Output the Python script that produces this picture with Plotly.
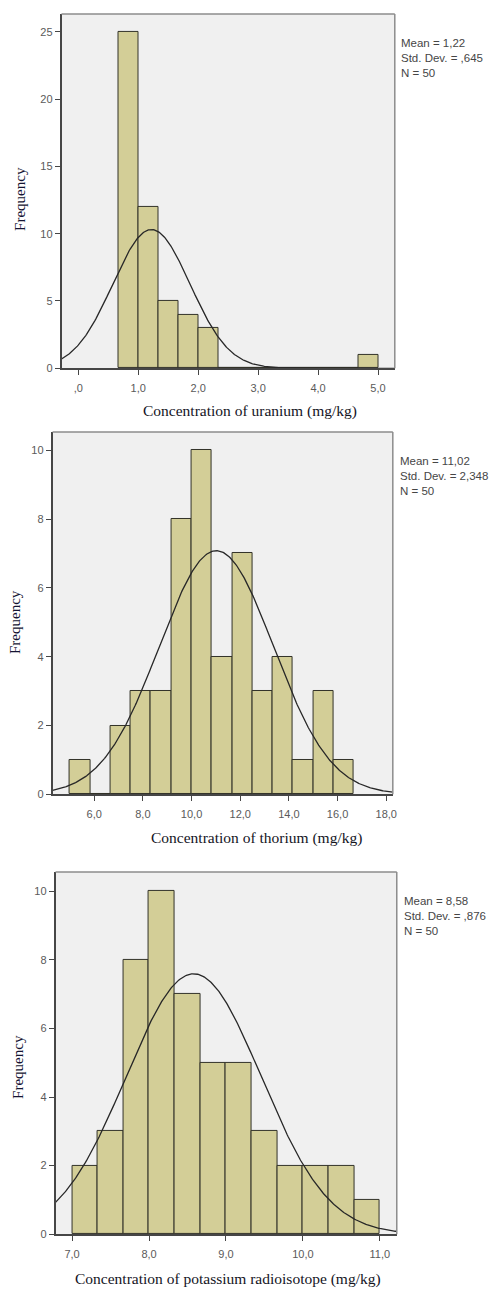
import numpy as np
import plotly.graph_objects as go

# ---------------- data ----------------
# Uranium
u_bin_start = 0.6667
u_bin_width = 1 / 3
u_counts = [25, 12, 5, 4, 3, 0, 0, 0, 0, 0, 0, 0, 1]
u_mean, u_sd, u_n = 1.22, 0.645, 50
u_tickvals = [0, 1, 2, 3, 4, 5]
u_ticktext = [",0", "1,0", "2,0", "3,0", "4,0", "5,0"]
u_yticks = [0, 5, 10, 15, 20, 25]

# Thorium
t_bin_start = 5.0
t_bin_width = 5 / 6
t_counts = [1, 0, 2, 3, 3, 8, 10, 4, 7, 3, 4, 1, 3, 1]
t_mean, t_sd, t_n = 11.02, 2.348, 50
t_tickvals = [6, 8, 10, 12, 14, 16, 18]
t_ticktext = ["6,0", "8,0", "10,0", "12,0", "14,0", "16,0", "18,0"]
t_yticks = [0, 2, 4, 6, 8, 10]

# Potassium
k_bin_start = 7.0
k_bin_width = 1 / 3
k_counts = [2, 3, 8, 10, 7, 5, 5, 3, 2, 2, 2, 1]
k_mean, k_sd, k_n = 8.58, 0.876, 50
k_tickvals = [7, 8, 9, 10, 11]
k_ticktext = ["7,0", "8,0", "9,0", "10,0", "11,0"]
k_yticks = [0, 2, 4, 6, 8, 10]

x_titles = ["Concentration of uranium (mg/kg)",
            "Concentration of thorium (mg/kg)",
            "Concentration of potassium radioisotope (mg/kg)"]
stat_texts = ["Mean = 1,22<br>Std. Dev. = ,645<br>N = 50",
              "Mean = 11,02<br>Std. Dev. = 2,348<br>N = 50",
              "Mean = 8,58<br>Std. Dev. = ,876<br>N = 50"]

# ---------------- layout geometry (pixels) ----------------
W, H = 496, 1293
panels = [
    dict(l=62, r=398, t=14, b=370, xr=[-0.28, 5.28], yr=[0, 26.33],
         stat=(402, 35), xt=(252, 413), yl=(20, 200)),
    dict(l=53, r=396, t=434, b=798, xr=[4.29, 18.27], yr=[0, 10.53],
         stat=(401, 455), xt=(259, 842), yl=(15, 625)),
    dict(l=56, r=400, t=876, b=1240, xr=[6.785, 11.22], yr=[0, 10.56],
         stat=(405, 897), xt=(230, 1285), yl=(18, 1072)),
]

datasets = [
    (u_bin_start, u_bin_width, u_counts, u_mean, u_sd, u_n, u_tickvals, u_ticktext, u_yticks),
    (t_bin_start, t_bin_width, t_counts, t_mean, t_sd, t_n, t_tickvals, t_ticktext, t_yticks),
    (k_bin_start, k_bin_width, k_counts, k_mean, k_sd, k_n, k_tickvals, k_ticktext, k_yticks),
]

BAR_FILL = "rgb(211,206,151)"
BAR_LINE = "rgb(50,50,40)"
PLOT_BG = "rgb(240,240,240)"
TICK_FONT = dict(family="Arial, Liberation Sans", size=11, color="rgb(90,90,90)")

fig = go.Figure()
annotations = []
shapes = []

for i, (p, d) in enumerate(zip(panels, datasets)):
    start, width, counts, mean, sd, n, tv, tt, yt = d
    xa = "x" if i == 0 else f"x{i+1}"
    ya = "y" if i == 0 else f"y{i+1}"
    centers = [start + width * (j + 0.5) for j in range(len(counts))]
    fig.add_trace(go.Bar(
        x=centers, y=counts, width=[width] * len(counts),
        marker=dict(color=BAR_FILL, line=dict(color=BAR_LINE, width=1)),
        xaxis=xa, yaxis=ya, showlegend=False, hoverinfo="skip"))
    xs = np.linspace(p["xr"][0], p["xr"][1], 400)
    ys = n * width * np.exp(-0.5 * ((xs - mean) / sd) ** 2) / (sd * np.sqrt(2 * np.pi))
    fig.add_trace(go.Scatter(
        x=xs, y=ys, mode="lines", line=dict(color="rgb(40,40,40)", width=1.3),
        xaxis=xa, yaxis=ya, showlegend=False, hoverinfo="skip"))

    xkey = "xaxis" if i == 0 else f"xaxis{i+1}"
    ykey = "yaxis" if i == 0 else f"yaxis{i+1}"
    fig.layout[xkey] = dict(
        domain=[p["l"] / W, p["r"] / W], range=p["xr"], anchor=ya,
        tickvals=tv, ticktext=tt, ticks="outside", ticklen=5, tickwidth=1,
        tickcolor="rgb(70,70,70)", showgrid=False, zeroline=False,
        showline=True, linecolor="rgb(70,70,70)", linewidth=1.5,
        tickfont=TICK_FONT, ticklabelstandoff=4, fixedrange=True)
    fig.layout[ykey] = dict(
        domain=[1 - p["b"] / H, 1 - p["t"] / H], range=p["yr"], anchor=xa,
        tickvals=yt, ticks="outside", ticklen=5, tickwidth=1,
        tickcolor="rgb(70,70,70)", showgrid=False, zeroline=False,
        showline=True, linecolor="rgb(70,70,70)", linewidth=1.5,
        tickfont=TICK_FONT, fixedrange=True)
    annotations.append(dict(
        text=stat_texts[i], xref="paper", yref="paper",
        x=p["stat"][0] / W, y=1 - p["stat"][1] / H, xanchor="left", yanchor="top",
        showarrow=False, align="left",
        font=dict(family="Arial, Liberation Sans", size=11.5, color="rgb(70,70,70)")))
    annotations.append(dict(
        text=x_titles[i], xref="paper", yref="paper",
        x=p["xt"][0] / W, y=1 - p["xt"][1] / H, xanchor="center", yanchor="middle",
        showarrow=False,
        font=dict(family="Liberation Serif, Times New Roman", size=15.5, color="rgb(20,20,30)")))
    annotations.append(dict(
        text="Frequency", xref="paper", yref="paper", textangle=-90,
        x=p["yl"][0] / W, y=1 - p["yl"][1] / H, xanchor="center", yanchor="middle",
        showarrow=False,
        font=dict(family="Liberation Serif, Times New Roman", size=15, color="rgb(20,20,50)")))
    # frame top/right
    shapes.append(dict(type="line", xref="paper", yref="paper",
                       x0=p["r"] / W, x1=p["r"] / W, y0=1 - p["b"] / H, y1=1 - p["t"] / H,
                       line=dict(color="rgb(140,140,140)", width=1.5), layer="above"))
    shapes.append(dict(type="line", xref="paper", yref="paper",
                       x0=p["l"] / W, x1=p["r"] / W, y0=1 - p["t"] / H, y1=1 - p["t"] / H,
                       line=dict(color="rgb(140,140,140)", width=1.5), layer="above"))

fig.update_layout(
    width=W, height=H, margin=dict(l=0, r=0, t=0, b=0),
    paper_bgcolor="white", plot_bgcolor=PLOT_BG,
    bargap=0, annotations=annotations, shapes=shapes, showlegend=False)

fig.write_html("out.html", config={"displayModeBar": False},
               post_script="document.body.style.margin='0';document.body.style.overflow='hidden';")
